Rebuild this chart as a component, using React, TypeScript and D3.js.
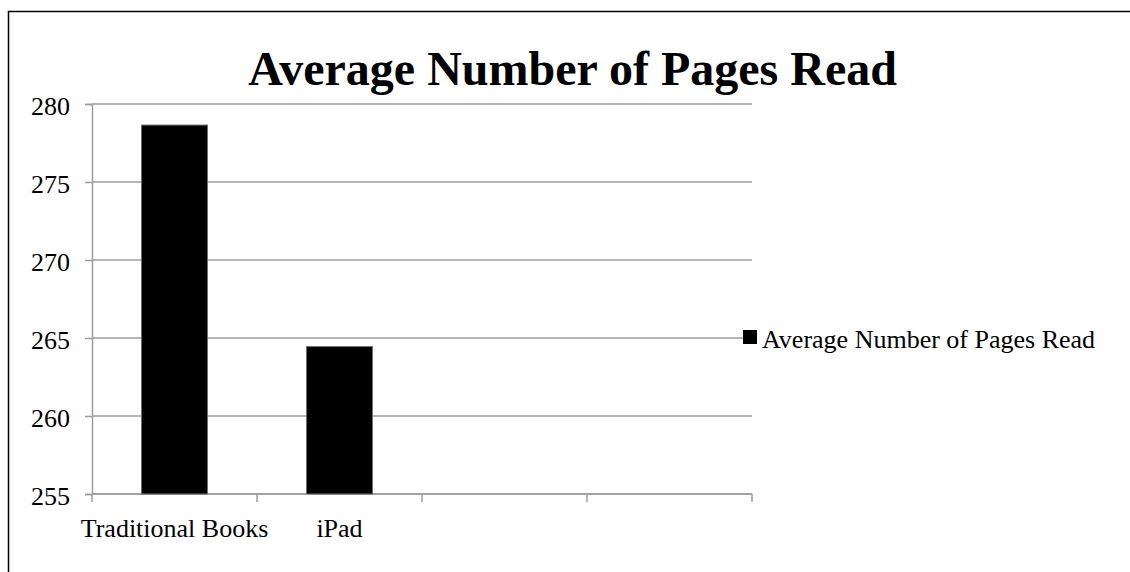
import React, { useRef, useEffect } from "react";
import { select, scaleLinear, scaleBand, axisLeft, range } from "d3";

// chart values
const categories = ["Traditional Books", "iPad", "", ""];
const pagesRead = [278.65, 264.45, null, null];
const yTicks = [255, 260, 265, 270, 275, 280];
const seriesName = "Average Number of Pages Read";
const chartTitle = "Average Number of Pages Read";

const W = 1130;
const H = 572;
const FONT = "'Liberation Serif', 'Times New Roman', serif";

const App: React.FC = () => {
  const svgRef = useRef<SVGSVGElement>(null);

  useEffect(() => {
    const svg = select(svgRef.current);
    svg.selectAll("*").remove();

    const plotLeft = 92;
    const plotRight = 752;
    const plotTop = 104;
    const plotBottom = 494;

    const y = scaleLinear().domain([255, 280]).range([plotBottom, plotTop]);
    const x = scaleBand<number>()
      .domain(range(categories.length))
      .range([plotLeft, plotRight])
      .padding(0);
    const barW = x.bandwidth() * 0.4;

    // outer frame (runs off the right and bottom edge)
    svg
      .append("rect")
      .attr("x", 8.5)
      .attr("y", 11.5)
      .attr("width", W + 20)
      .attr("height", H + 20)
      .attr("fill", "none")
      .attr("stroke", "#000")
      .attr("stroke-width", 1.5);

    svg
      .append("text")
      .text(chartTitle)
      .attr("x", (250 + 895) / 2)
      .attr("y", 85)
      .attr("text-anchor", "middle")
      .attr("font-family", FONT)
      .attr("font-weight", "bold")
      .attr("font-size", 48)
      .attr("fill", "#000");

    // gridlines
    svg
      .append("g")
      .selectAll("line")
      .data(yTicks)
      .join("line")
      .attr("x1", plotLeft)
      .attr("x2", plotRight)
      .attr("y1", (d) => y(d))
      .attr("y2", (d) => y(d))
      .attr("stroke", "#9d9d9d")
      .attr("stroke-width", 1.5);

    // y axis
    const yAxis = axisLeft(y).tickValues(yTicks).tickSize(7).tickPadding(15);
    const gy = svg
      .append("g")
      .attr("transform", `translate(${plotLeft},0)`)
      .call(yAxis);
    gy.select(".domain").attr("stroke", "#9d9d9d").attr("stroke-width", 1.5);
    gy.selectAll(".tick line").attr("stroke", "#9d9d9d").attr("stroke-width", 1.5);
    gy.selectAll(".tick text")
      .attr("font-family", FONT)
      .attr("font-size", 26)
      .attr("fill", "#000")
      .attr("dy", "0.42em");

    // x axis line + ticks
    const gx = svg.append("g");
    gx.append("line")
      .attr("x1", plotLeft)
      .attr("x2", plotRight)
      .attr("y1", plotBottom)
      .attr("y2", plotBottom)
      .attr("stroke", "#9d9d9d")
      .attr("stroke-width", 1.5);
    const edges = [...x.domain().map((i) => x(i)!), plotRight];
    gx.selectAll("line.tick")
      .data(edges)
      .join("line")
      .attr("class", "tick")
      .attr("x1", (d) => d)
      .attr("x2", (d) => d)
      .attr("y1", plotBottom)
      .attr("y2", plotBottom + 8)
      .attr("stroke", "#9d9d9d")
      .attr("stroke-width", 1.5);
    gx.selectAll("text")
      .data(categories)
      .join("text")
      .text((d) => d)
      .attr("x", (_, i) => x(i)! + x.bandwidth() / 2)
      .attr("y", 537)
      .attr("text-anchor", "middle")
      .attr("font-family", FONT)
      .attr("font-size", 26)
      .attr("fill", "#000");

    // bars
    svg
      .append("g")
      .selectAll("rect")
      .data(pagesRead.map((v, i) => ({ v, i })).filter((d) => d.v != null))
      .join("rect")
      .attr("x", (d) => x(d.i)! + (x.bandwidth() - barW) / 2)
      .attr("y", (d) => y(d.v as number))
      .attr("width", barW)
      .attr("height", (d) => plotBottom - y(d.v as number))
      .attr("fill", "#000")
      .attr("stroke", "#6e6e6e")
      .attr("stroke-width", 1);

    // legend
    const lg = svg.append("g").attr("transform", "translate(743,330)");
    lg.append("rect")
      .attr("width", 14)
      .attr("height", 14)
      .attr("fill", "#000");
    lg.append("text")
      .text(seriesName)
      .attr("x", 19)
      .attr("y", 18)
      .attr("font-family", FONT)
      .attr("font-size", 26)
      .attr("fill", "#000");
  }, []);

  return (
    <svg
      ref={svgRef}
      width={W}
      height={H}
      style={{ position: "absolute", left: 0, top: 0, background: "#fff" }}
    ></svg>
  );
};

export default App;
